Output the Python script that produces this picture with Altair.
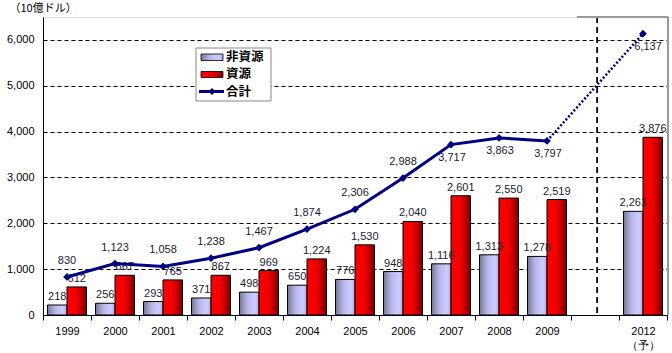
import altair as alt
import pandas as pd

# ---- data ----
years = ["1999", "2000", "2001", "2002", "2003", "2004", "2005", "2006",
         "2007", "2008", "2009", "2012"]
non_resource = [218, 256, 293, 371, 498, 650, 776, 948, 1116, 1313, 1278, 2261]
resource = [612, 867, 765, 867, 969, 1224, 1530, 2040, 2601, 2550, 2519, 3876]
total = [830, 1123, 1058, 1238, 1467, 1874, 2306, 2988, 3717, 3863, 3797, 6137]
series_names = ["非資源", "資源", "合計"]
y_title = "（10億ドル）"
forecast_note = "（予）"
y_ticks = [0, 1000, 2000, 3000, 4000, 5000, 6000]
labels_below = ["2007", "2008", "2009"]
label_forecast = ["2012"]

x_domain = years[:-1] + ["gap"] + years[-1:]

bars = pd.DataFrame({
    "year": years * 2,
    "series": [series_names[0]] * len(years) + [series_names[1]] * len(years),
    "value": non_resource + resource,
})
tot = pd.DataFrame({"year": years, "value": total})
legend_df = pd.DataFrame({"label": series_names})

W, H = 624, 298
FONT = "Liberation Sans"
JP = "Noto Sans CJK JP"
NAVY = "#000080"
TXT = "#1a1a33"

grad_lav = alt.Gradient(gradient="linear", x1=0, x2=1, y1=0, y2=0, stops=[
    alt.GradientStop(color="#767699", offset=0),
    alt.GradientStop(color="#b8b8e8", offset=0.4),
    alt.GradientStop(color="#ccccff", offset=0.8),
    alt.GradientStop(color="#b0b0dd", offset=1)])
grad_red = alt.Gradient(gradient="linear", x1=0, x2=1, y1=0, y2=0, stops=[
    alt.GradientStop(color="#ff0000", offset=0),
    alt.GradientStop(color="#f00000", offset=0.5),
    alt.GradientStop(color="#a00000", offset=0.85),
    alt.GradientStop(color="#700000", offset=1)])

label_expr = ("datum.value == 'gap' ? '' : (datum.value == '2012' ? ['2012', '"
              + forecast_note + "'] : datum.value)")

x_enc = alt.X("year:N",
              scale=alt.Scale(domain=x_domain, paddingInner=0, paddingOuter=0),
              axis=alt.Axis(title=None, labelAngle=0, tickBand="extent", tickSize=5,
                            tickColor="black", domainColor="black", labelFontSize=11,
                            labelFont=FONT, labelColor="black", labelPadding=5,
                            labelExpr=label_expr, grid=False, labelLineHeight=14))
y_enc = alt.Y("value:Q", scale=alt.Scale(domain=[0, 6500], nice=False),
              axis=alt.Axis(values=y_ticks, format=",.0f", title=y_title, titleAngle=0,
                            titleX=-34, titleY=-9, titleAlign="left",
                            titleBaseline="middle", titleFont=JP, titleFontSize=11,
                            titleFontWeight="normal", titleColor="black",
                            grid=True, gridDash=[4, 3], gridColor="black",
                            gridOpacity=1, ticks=False, labelPadding=9,
                            labelFont=FONT, labelFontSize=11, labelColor="black",
                            domainColor="black"))
xoff = alt.XOffset("series:N", scale=alt.Scale(domain=series_names[:2],
                                               paddingOuter=0.23, paddingInner=0))

base_bars = alt.Chart(bars)
bar_non = base_bars.transform_filter(alt.datum.series == series_names[0]).mark_bar(
    color=grad_lav, stroke="black", strokeWidth=1).encode(x=x_enc, xOffset=xoff, y=y_enc)
bar_res = base_bars.transform_filter(alt.datum.series == series_names[1]).mark_bar(
    color=grad_red, stroke="black", strokeWidth=1).encode(x=x_enc, xOffset=xoff, y=y_enc)
bar_text = base_bars.mark_text(baseline="bottom", dy=-3, fontSize=11, font=FONT,
                               color=TXT).encode(
    x=x_enc, xOffset=xoff, y=y_enc, text=alt.Text("value:Q", format=","))

base_tot = alt.Chart(tot)
line_solid = base_tot.transform_filter(alt.datum.year != "2012").mark_line(
    color=NAVY, strokeWidth=3).encode(x=x_enc, y=y_enc)
line_dot = base_tot.transform_filter(
    alt.FieldOneOfPredicate(field="year", oneOf=["2009", "2012"])).mark_line(
    color=NAVY, strokeWidth=2.5, strokeDash=[2, 2]).encode(x=x_enc, y=y_enc)
pts = base_tot.mark_point(shape="diamond", filled=True, size=60, color=NAVY,
                          opacity=1).encode(x=x_enc, y=y_enc)
tot_above = base_tot.transform_filter(
    {"not": alt.FieldOneOfPredicate(field="year", oneOf=labels_below + label_forecast)}
).mark_text(baseline="middle", dy=-16, fontSize=11, font=FONT, color=TXT).encode(
    x=x_enc, y=y_enc, text=alt.Text("value:Q", format=","))
tot_below = base_tot.transform_filter(
    alt.FieldOneOfPredicate(field="year", oneOf=labels_below)).mark_text(
    baseline="middle", dy=13, dx=1, fontSize=11, font=FONT, color=TXT).encode(
    x=x_enc, y=y_enc, text=alt.Text("value:Q", format=","))
tot_fc = base_tot.transform_filter(
    alt.FieldOneOfPredicate(field="year", oneOf=label_forecast)).mark_text(
    baseline="middle", dy=13, dx=5, fontSize=11, font=FONT, color=TXT).encode(
    x=x_enc, y=y_enc, text=alt.Text("value:Q", format=","))

sep = alt.Chart(tot).mark_rule(color="black", strokeDash=[6, 4], strokeWidth=1).encode(
    x=alt.X(datum="gap", bandPosition=0.55), y=alt.value(0), y2=alt.value(H))
frame_r = alt.Chart(tot).mark_rule(color="#999999", strokeWidth=1).encode(
    x=alt.value(W + 1), y=alt.value(0), y2=alt.value(H))
frame_t = alt.Chart(tot).mark_rule(color="#999999", strokeWidth=1).encode(
    x=alt.value(534), x2=alt.value(W + 1), y=alt.value(0))

# ---- legend (drawn box) ----
one = legend_df.head(1)
leg_box = alt.Chart(one).mark_rect(fill="white", stroke="#888888", strokeWidth=1).encode(
    x=alt.value(153), x2=alt.value(228), y=alt.value(31), y2=alt.value(84))
leg_r1 = alt.Chart(one).mark_rect(color=grad_lav, stroke="black", strokeWidth=0.8).encode(
    x=alt.value(158), x2=alt.value(180), y=alt.value(37), y2=alt.value(43.5))
leg_r2 = alt.Chart(one).mark_rect(color=grad_red, stroke="black", strokeWidth=0.8).encode(
    x=alt.value(158), x2=alt.value(180), y=alt.value(54.5), y2=alt.value(60.5))
leg_ln = alt.Chart(one).mark_rule(color=NAVY, strokeWidth=3).encode(
    x=alt.value(156), x2=alt.value(181), y=alt.value(74.5))
leg_pt = alt.Chart(one).mark_point(shape="diamond", filled=True, size=50, color=NAVY,
                                   opacity=1).encode(x=alt.value(169), y=alt.value(74.5))
leg_texts = []
for i, yy in enumerate([39.5, 57, 74.5]):
    leg_texts.append(alt.Chart(legend_df.iloc[[i]]).mark_text(
        align="left", baseline="middle", font=JP, fontSize=12.5, fontWeight="bold",
        color="black").encode(x=alt.value(183), y=alt.value(yy), text="label:N"))

chart = alt.layer(
    bar_non, bar_res, bar_text, sep, line_solid, line_dot, pts, tot_above, tot_below,
    tot_fc, frame_r, frame_t, leg_box, leg_r1, leg_r2, leg_ln, leg_pt, *leg_texts
).properties(
    width=W, height=H,
    padding={"left": 43, "top": 17, "right": 5, "bottom": 38},
    autosize=alt.AutoSizeParams(type="none"),
).configure_view(stroke=None).configure(background="white")

chart.save("out.html", embed_options={"renderer": "svg", "actions": False})
